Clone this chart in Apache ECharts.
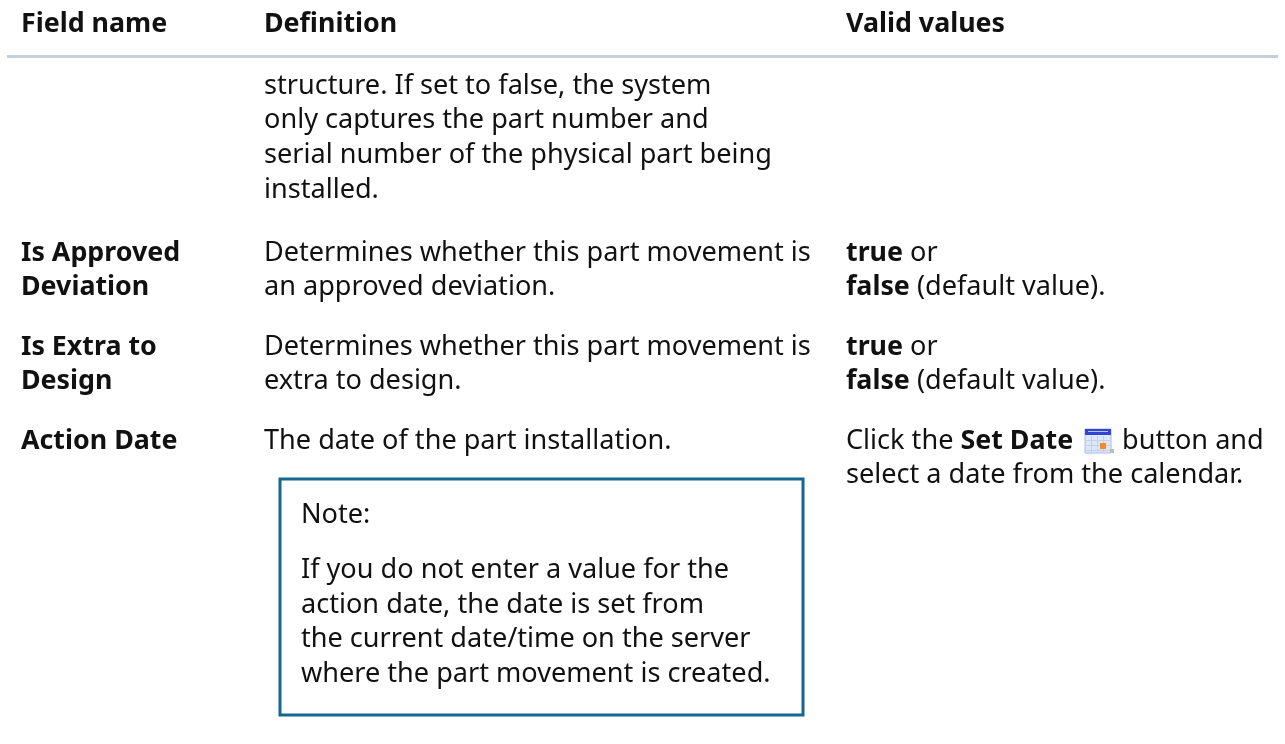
<!DOCTYPE html>
<html><head><meta charset="utf-8">
<style>html,body{margin:0;padding:0;background:#fff}#c{width:1285px;height:744px}</style>
<script src="https://cdn.jsdelivr.net/npm/echarts@6/dist/echarts.min.js"></script>
</head><body><div id="c"></div>
<script>
const headers = ['Field name', 'Definition', 'Valid values'];
const definitionTop = ['structure. If set to false, the system', 'only captures the part number and', 'serial number of the physical part being', 'installed.'];
const fieldNames = [['Is Approved', 'Deviation'], ['Is Extra to', 'Design'], ['Action Date']];
const definitions = [['Determines whether this part movement is', 'an approved deviation.'], ['Determines whether this part movement is', 'extra to design.'], ['The date of the part installation.']];
const validValues = [['{b|true} or', '{b|false} (default value).'], ['{b|true} or', '{b|false} (default value).'], ['Click the {b|Set Date}', 'select a date from the calendar.']];
const trailingWords = ['button and'];
const noteTitle = 'Note:';
const noteLines = ['If you do not enter a value for the', 'action date, the date is set from', 'the current date/time on the server', 'where the part movement is created.'];

const F = '"Noto Sans", sans-serif', BOLD = 26.8, BODY = 27.1, LH = 34.7, INK = '#111';
const COL = [21, 264, 846], ROW = [253, 347, 441];
const g = [];
function text(x, y, t, bold) {
  const s = bold ? BOLD : BODY;
  g.push({type: 'text', x, y, style: {text: t, x: 0, y: 0, fill: INK, verticalAlign: 'middle', align: 'left',
    rich: {b: {fontWeight: 'bold', fontFamily: F, fontSize: BOLD, fill: INK}}, fontFamily: F, fontSize: s, fontWeight: bold ? 'bold' : 'normal'}});
}
function rect(x, y, w, h, fill, stroke) { g.push({type: 'rect', shape: {x, y, width: w, height: h}, style: {fill: fill, stroke: stroke || null, lineWidth: stroke ? 1 : 0}}); }

headers.forEach((h, i) => text(COL[i], 24, h, true));
rect(7, 55, 1271, 3, '#c3d1de');
definitionTop.forEach((t, i) => text(COL[1], 86 + i * LH, t));
fieldNames.forEach((ls, r) => ls.forEach((t, i) => text(COL[0], ROW[r] + i * LH, t, true)));
definitions.forEach((ls, r) => ls.forEach((t, i) => text(COL[1], ROW[r] + i * LH, t)));
validValues.forEach((ls, r) => ls.forEach((t, i) => text(COL[2], ROW[r] + i * LH, t)));
text(1122, ROW[2], trailingWords[0]);

// note box
g.push({type: 'rect', shape: {x: 280, y: 479, width: 523, height: 236}, style: {fill: 'none', stroke: '#14678f', lineWidth: 3}});
text(301, 515, noteTitle);
noteLines.forEach((t, i) => text(301, 570 + i * 34.8, t));

// calendar icon
rect(1085, 429, 26, 24, '#dfe8fb', '#a9b8ee');
rect(1085, 429, 26, 6, '#3344d2');
rect(1088, 431, 20, 1, '#b7c2f0');
[440, 445, 450].forEach(y => rect(1086, y, 24, 1, '#bfd0f0'));
[1091, 1097, 1103].forEach(x => rect(x, 436, 1, 17, '#bfd0f0'));
rect(1100, 443, 6, 6, '#f08a24');
rect(1110, 449, 4, 4, '#bbbbbb');

echarts.init(document.getElementById('c'), null, {renderer: 'canvas'}).setOption({animation: false, backgroundColor: '#fff', graphic: {elements: g}});
</script></body></html>
